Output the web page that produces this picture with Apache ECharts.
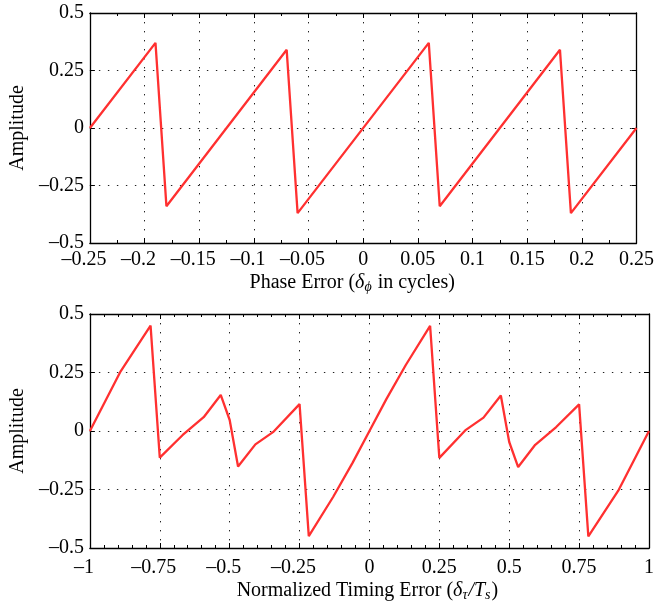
<!DOCTYPE html>
<html>
<head>
<meta charset="utf-8">
<script src="https://cdn.jsdelivr.net/npm/echarts@6/dist/echarts.min.js"></script>
<style>html,body{margin:0;padding:0;background:#fff}#c{width:657px;height:605px}</style>
</head>
<body>
<div id="c"></div>
<script>
// ---- data ----
const phaseX = [-0.25, -0.19, -0.18, -0.07, -0.06, 0.06, 0.07, 0.18, 0.19, 0.25];
const phaseY = [0, 0.37, -0.34, 0.34, -0.37, 0.37, -0.34, 0.34, -0.37, 0];

const timingX = [-1, -0.89, -0.783, -0.75, -0.668, -0.593, -0.532, -0.5, -0.47, -0.408, -0.345, -0.25, -0.217, -0.13, -0.06, 0,
                 0.06, 0.13, 0.217, 0.25, 0.345, 0.408, 0.47, 0.5, 0.532, 0.593, 0.668, 0.75, 0.783, 0.89, 1];
const timingY = [0, 0.255, 0.45, -0.114, -0.017, 0.059, 0.154, 0.047, -0.152, -0.057, -0.005, 0.115, -0.449, -0.282, -0.135, 0,
                 0.135, 0.282, 0.449, -0.115, 0.005, 0.057, 0.152, -0.047, -0.154, -0.059, 0.017, 0.114, -0.45, -0.255, 0];

const phaseTicks = {min: -0.25, max: 0.25, interval: 0.05};
const timingTicks = {min: -1, max: 1, interval: 0.25};
const ampTicks = {min: -0.5, max: 0.5, interval: 0.25};

// ---- chart ----
const FONT = '"Liberation Serif", "DejaVu Serif", serif';
const FS = 20;
const NFS = 20;
const RED = '#ff3030';

function xfmt(v) {
  const r = Math.round(v * 1000) / 1000;
  if (r < 0) return '{n|\u2013' + String(-r) + '}';
  return '{p|' + String(r) + '}';
}
function yfmt(v) {
  const r = Math.round(v * 1000) / 1000;
  if (r < 0) return '\u2013' + String(-r);
  return String(r);
}
const axisLineStyle = {color: '#000', width: 1.3};
const richX = {
  n: {fontFamily: FONT, fontSize: FS, color: '#000', padding: [0, 12, 0, 0]},
  p: {fontFamily: FONT, fontSize: FS, color: '#000'}
};
const nameRich = {
  i: {fontFamily: FONT, fontSize: NFS, fontStyle: 'italic', color: '#000'},
  sub: {fontFamily: FONT, fontSize: 14, fontStyle: 'italic', color: '#000', padding: [9, 1, 0, 0]},
  t: {fontFamily: FONT, fontSize: NFS, color: '#000'}
};

function mainX(grid, ticks, split, name, gap, margin, namePad) {
  return {
    type: 'value', gridIndex: grid, position: 'bottom',
    min: ticks.min, max: ticks.max, interval: ticks.interval,
    axisLine: {show: true, onZero: false, lineStyle: axisLineStyle},
    axisTick: {show: true, inside: true, length: 5, lineStyle: {color: '#000', width: 1}},
    minorTick: {show: true, splitNumber: split, length: 3, lineStyle: {color: '#000', width: 1}},
    axisLabel: {formatter: xfmt, margin: margin, rich: richX, fontFamily: FONT, fontSize: FS, color: '#000', showMinLabel: true, showMaxLabel: true, hideOverlap: false},
    splitLine: {show: true, lineStyle: {color: '#222', width: 1, type: [1.4, 7.6]}},
    name: name, nameLocation: 'middle', nameGap: gap,
    nameTextStyle: {fontFamily: FONT, fontSize: NFS, color: '#000', rich: nameRich, padding: namePad}
  };
}
function topX(grid, ticks, split) {
  return {
    type: 'value', gridIndex: grid, position: 'top',
    min: ticks.min, max: ticks.max, interval: ticks.interval,
    axisLine: {show: true, onZero: false, lineStyle: axisLineStyle},
    axisTick: {show: true, inside: true, length: 5, lineStyle: {color: '#000', width: 1}},
    minorTick: {show: true, splitNumber: split, length: 3, lineStyle: {color: '#000', width: 1}},
    axisLabel: {show: false}, splitLine: {show: false}
  };
}
function mainY(grid) {
  return {
    type: 'value', gridIndex: grid, position: 'left',
    min: ampTicks.min, max: ampTicks.max, interval: ampTicks.interval,
    axisLine: {show: true, onZero: false, lineStyle: axisLineStyle},
    axisTick: {show: true, inside: true, length: 5, lineStyle: {color: '#000', width: 1}},
    axisLabel: {formatter: yfmt, margin: 6, fontFamily: FONT, fontSize: FS, color: '#000', showMinLabel: true, showMaxLabel: true},
    splitLine: {show: true, lineStyle: {color: '#222', width: 1, type: [1.4, 7.6]}},
    name: 'Amplitude', nameLocation: 'middle', nameGap: 60,
    nameTextStyle: {fontFamily: FONT, fontSize: NFS, color: '#000'}
  };
}
function rightY(grid) {
  return {
    type: 'value', gridIndex: grid, position: 'right',
    min: ampTicks.min, max: ampTicks.max, interval: ampTicks.interval,
    axisLine: {show: true, onZero: false, lineStyle: axisLineStyle},
    axisTick: {show: true, inside: true, length: 5, lineStyle: {color: '#000', width: 1}},
    axisLabel: {show: false}, splitLine: {show: false}
  };
}

const phaseData = phaseX.map((x, i) => [x, phaseY[i]]);
const timingData = timingX.map((x, i) => [x, timingY[i]]);

const option = {
  animation: false,
  backgroundColor: '#fff',
  grid: [
    {left: 86, right: 16, top: 13, height: 230},
    {left: 88, right: 5, top: 314, height: 234}
  ],
  xAxis: [
    mainX(0, phaseTicks, 2, '{t|Phase Error (}{i|δ}{sub|ϕ}{t| in cycles)}', 28, 7, [0, 22, 0, 0]),
    topX(0, phaseTicks, 2),
    mainX(1, timingTicks, 5, '{t|Normalized Timing Error (}{i|δ}{sub|τ}{i|/T}{sub|s}{t|)}', 31, 10, [0, 4, 0, 0]),
    topX(1, timingTicks, 5)
  ],
  yAxis: [mainY(0), rightY(0), mainY(1), rightY(1)],
  series: [
    {type: 'line', xAxisIndex: 0, yAxisIndex: 0, data: phaseData, showSymbol: false, symbol: 'none',
     lineStyle: {color: RED, width: 2.3}, itemStyle: {color: RED}},
    {type: 'line', xAxisIndex: 2, yAxisIndex: 2, data: timingData, showSymbol: false, symbol: 'none',
     lineStyle: {color: RED, width: 2.3}, itemStyle: {color: RED}}
  ]
};
const chart = echarts.init(document.getElementById('c'), null, {renderer: 'canvas'});
chart.setOption(option);
</script>
</body>
</html>
